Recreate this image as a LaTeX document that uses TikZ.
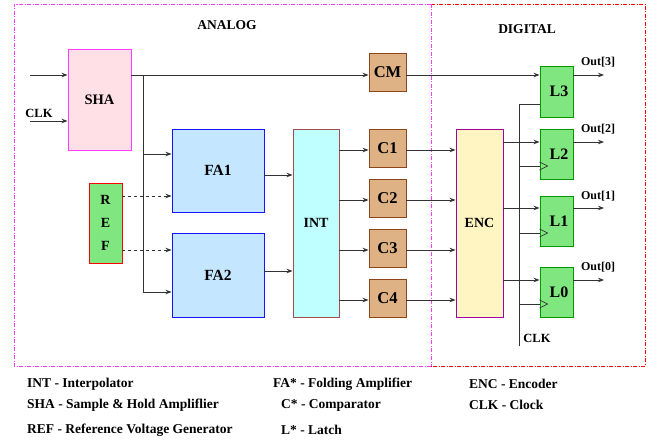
\documentclass[tikz,border=0pt]{standalone}
\usepackage{fontspec}
\setmainfont{Liberation Serif}
\usetikzlibrary{arrows.meta}
\definecolor{shafill}{RGB}{255,224,230}
\definecolor{shadraw}{RGB}{255,60,255}
\definecolor{fafill}{RGB}{196,230,255}
\definecolor{fadraw}{RGB}{20,20,255}
\definecolor{reffill}{RGB}{128,230,128}
\definecolor{intfill}{RGB}{192,255,255}
\definecolor{intdraw}{RGB}{160,80,80}
\definecolor{cfill}{RGB}{222,178,132}
\definecolor{cdraw}{RGB}{140,70,25}
\definecolor{encfill}{RGB}{255,245,195}
\definecolor{encdraw}{RGB}{160,0,160}
\definecolor{ldraw}{RGB}{0,150,0}
\definecolor{wire}{RGB}{50,50,50}
\tikzset{
  blk/.style={rectangle, line width=0.9pt, inner sep=0pt, font=\fontsize{14.5}{14}\selectfont\bfseries},
  shabox/.style={blk, fill=shafill, draw=shadraw, minimum width=63pt, minimum height=101pt},
  fabox/.style={blk, fill=fafill, draw=fadraw, minimum width=92pt, minimum height=83pt, font=\fontsize{15.5}{15}\selectfont\bfseries},
  refbox/.style={blk, fill=reffill, draw=red, minimum width=33pt, minimum height=80pt, align=center, font=\fontsize{14}{23}\selectfont\bfseries},
  intbox/.style={blk, fill=intfill, draw=intdraw, minimum width=46pt, minimum height=188pt, font=\fontsize{14}{14}\selectfont\bfseries},
  cbox/.style={blk, fill=cfill, draw=cdraw, minimum width=37pt, minimum height=38pt, font=\fontsize{16.5}{15}\selectfont\bfseries},
  encbox/.style={blk, fill=encfill, draw=encdraw, minimum width=47pt, minimum height=188pt, font=\fontsize{14}{14}\selectfont\bfseries},
  lbox/.style={blk, fill=reffill, draw=ldraw, minimum width=33pt, minimum height=50pt, font=\fontsize{16}{15}\selectfont\bfseries},
  wireline/.style={draw=wire, line width=0.9pt},
  arr/.style={wireline, -{Stealth[length=6pt,width=4.5pt]}},
  darr/.style={arr, dashed, dash pattern=on 3pt off 3pt},
  lbl/.style={font=\fontsize{13.5}{13}\selectfont\bfseries, inner sep=0pt},
  outlbl/.style={font=\fontsize{12}{12}\selectfont\bfseries, inner sep=0pt},
  leg/.style={font=\fontsize{13.5}{13}\selectfont\bfseries, inner sep=0pt, anchor=west},
}
\begin{document}
\begin{tikzpicture}[x=1pt, y=-1pt]
\useasboundingbox (0,0) rectangle (666,441);
% region frames
\draw[shadraw, line width=0.8pt, dash pattern=on 4pt off 1.5pt on 1pt off 1.5pt] (431,4) -- (14,4) -- (14,366) -- (431,366);
\draw[red, line width=0.8pt, dash pattern=on 4pt off 1.5pt on 1pt off 1.5pt] (431,4) -- (645,4) -- (645,366) -- (431,366);
\draw[shadraw, line width=0.8pt, dash pattern=on 4pt off 1.5pt on 1pt off 1.5pt] (431,4) -- (431,366);
\node[lbl] (analog) at (227,25) {ANALOG};
\node[lbl] (digital) at (527,29) {DIGITAL};

% blocks
\node[shabox] (sha) at (99.5,99.5) {SHA};
\node[fabox] (fa1) at (218,170.5) {FA1};
\node[fabox, minimum height=84pt] (fa2) at (218,275) {FA2};
\node[refbox] (ref) at (105.5,223) {R\\E\\F};
\node[intbox] (int) at (316,223) {INT};
\node[cbox] (cm) at (387.5,72) {CM};
\node[cbox] (c1) at (387.5,148) {C1};
\node[cbox] (c2) at (387.5,198) {C2};
\node[cbox] (c3) at (387.5,248) {C3};
\node[cbox] (c4) at (387.5,298) {C4};
\node[encbox] (enc) at (479.5,223) {ENC};
\node[lbox, minimum height=51pt] (l3) at (556.5,91.5) {\hspace*{5pt}L3};
\node[lbox] (l2) at (556.5,154) {\hspace*{5pt}L2};
\node[lbox] (l1) at (556.5,221) {\hspace*{5pt}L1};
\node[lbox] (l0) at (556.5,292) {\hspace*{5pt}L0};

% inputs
\coordinate (in) at (30,75);
\coordinate (clkin) at (30,121);
\node[lbl, font=\fontsize{12.5}{12}\selectfont\bfseries] (clklbl) at (39,113) {CLK};
\draw[arr] (in) -- (sha.west |- in);
\draw[arr] (clkin) -- (sha.west |- clkin);

% SHA output
\coordinate (br) at (143,75);
\draw[arr] (sha.east |- br) -- (cm.west |- br);
\draw[arr] (br) -- (143,292) -- (fa2.west |- 0,292);
\draw[arr] (143,154) -- (fa1.west |- 0,154);

% REF
\draw[darr] (ref.east |- 0,196) -- (fa1.west |- 0,196);
\draw[darr] (ref.east |- 0,250) -- (fa2.west |- 0,250);

% FA -> INT
\draw[arr] (fa1.east |- 0,175) -- (int.west |- 0,175);
\draw[arr] (fa2.east |- 0,271) -- (int.west |- 0,271);

% INT -> C
\draw[arr] (int.east |- 0,150) -- (c1.west |- 0,150);
\draw[arr] (int.east |- 0,200) -- (c2.west |- 0,200);
\draw[arr] (int.east |- 0,250) -- (c3.west |- 0,250);
\draw[arr] (int.east |- 0,300) -- (c4.west |- 0,300);

% C -> ENC
\draw[arr] (c1.east |- 0,150) -- (enc.west |- 0,150);
\draw[arr] (c2.east |- 0,200) -- (enc.west |- 0,200);
\draw[arr] (c3.east |- 0,250) -- (enc.west |- 0,250);
\draw[arr] (c4.east |- 0,300) -- (enc.west |- 0,300);

% CM -> L3
\draw[arr] (cm.east |- br) -- (l3.west |- br);

% clock
\coordinate (clktop) at (519,104);
\coordinate (clkbot) at (519,346);
\draw[wireline] (clkbot) -- (clktop) -- (l3.west |- clktop);
\node[lbl, font=\fontsize{12.5}{12}\selectfont\bfseries] (clklbl2) at (537,338) {CLK};
\draw[wireline] (clktop |- 0,166) -- (l2.west |- 0,166);
\draw[wireline] (clktop |- 0,233) -- (l1.west |- 0,233);
\draw[wireline] (clktop |- 0,304) -- (l0.west |- 0,304);
\draw[wireline, line width=0.7pt] (l2.west |- 0,162) -- ++(8,4) -- ++(-8,4);
\draw[wireline, line width=0.7pt] (l1.west |- 0,229) -- ++(8,4) -- ++(-8,4);
\draw[wireline, line width=0.7pt] (l0.west |- 0,300) -- ++(8,4) -- ++(-8,4);

% ENC -> L
\draw[arr] (enc.east |- 0,142) -- (l2.west |- 0,142);
\draw[arr] (enc.east |- 0,208) -- (l1.west |- 0,208);
\draw[arr] (enc.east |- 0,280) -- (l0.west |- 0,280);

% outputs
\coordinate (o3) at (604,75);
\coordinate (o2) at (604,142);
\coordinate (o1) at (604,208);
\coordinate (o0) at (604,280);
\draw[arr] (l3.east |- o3) -- (o3);
\draw[arr] (l2.east |- o2) -- (o2);
\draw[arr] (l1.east |- o1) -- (o1);
\draw[arr] (l0.east |- o0) -- (o0);
\node[outlbl] (out3) at (598,62) {Out[3]};
\node[outlbl] (out2) at (598,129) {Out[2]};
\node[outlbl] (out1) at (598,196) {Out[1]};
\node[outlbl] (out0) at (598,267) {Out[0]};

% legend
\node[leg] (lg1) at (27,384) {INT - Interpolator};
\node[leg] (lg2) at (27,405) {SHA - Sample \& Hold Ampliflier};
\node[leg] (lg3) at (27,430) {REF - Reference Voltage Generator};
\node[leg] (lg4) at (273,384) {FA* - Folding Amplifier};
\node[leg] (lg5) at (281,405) {C* - Comparator};
\node[leg] (lg6) at (281,430) {L* - Latch};
\node[leg] (lg7) at (469,384) {ENC - Encoder};
\node[leg] (lg8) at (469,405) {CLK - Clock};
\end{tikzpicture}
\end{document}
